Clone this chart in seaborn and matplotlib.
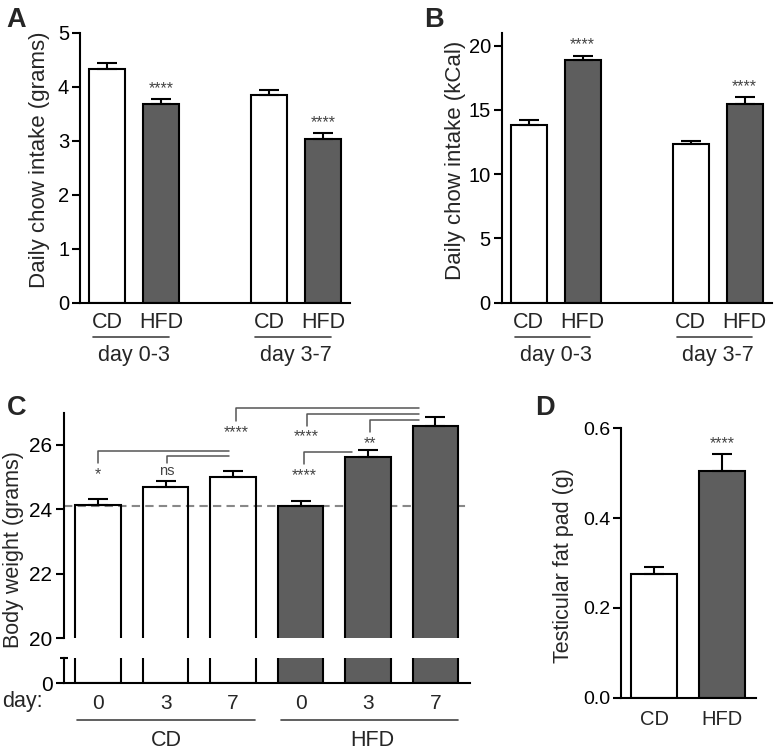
import numpy as np
import pandas as pd
import matplotlib
matplotlib.use("Agg")
import matplotlib.pyplot as plt
import matplotlib.transforms as mtransforms
import seaborn as sns

# data
diets = ["CD", "HFD", "CD", "HFD"]
periods = ["day 0-3", "day 0-3", "day 3-7", "day 3-7"]
intake_g = [4.33, 3.69, 3.86, 3.03]
intake_g_sem = [0.11, 0.08, 0.08, 0.11]
intake_kcal = [13.85, 18.86, 12.35, 15.46]
intake_kcal_sem = [0.39, 0.36, 0.23, 0.52]
intake_sig = ["", "****", "", "****"]

bw_diet = ["CD", "CD", "CD", "HFD", "HFD", "HFD"]
bw_day = ["0", "3", "7", "0", "3", "7"]
bw_mean = [24.13, 24.68, 25.00, 24.09, 25.61, 26.59]
bw_sem = [0.20, 0.20, 0.18, 0.18, 0.22, 0.29]
bw_baseline = 24.1
# comparisons in C: (from bar, to, label)
bw_tests = [(0, 2, "*"), (1, 2, "ns"), (3, 4, "****"), (4, 5, "**"), (3, 5, "****"), (2, 5, "****")]

fat_diet = ["CD", "HFD"]
fat_mean = [0.276, 0.506]
fat_sem = [0.015, 0.036]
fat_sig = ["", "****"]

# style
sns.set_style("ticks")
plt.rcParams["font.family"] = ["Liberation Sans", "DejaVu Sans"]
plt.rcParams["axes.linewidth"] = 1.5
plt.rcParams["ytick.major.width"] = 1.5
plt.rcParams["ytick.major.size"] = 5.8
plt.rcParams["ytick.color"] = "black"
plt.rcParams["xtick.major.size"] = 0
plt.rcParams["axes.edgecolor"] = "black"

pal = {"CD": "white", "HFD": "#5e5e5e"}
star_col = "#444444"
line_col = "#555555"

W, H = 782, 755
fig = plt.figure(figsize=(W / 100, H / 100), dpi=100)


def box(l, t, r, b):
    return [l / W, 1 - b / H, (r - l) / W, (b - t) / H]


def fy(py):
    return 1 - py / H


def bars(ax, df, x, order, width):
    sns.barplot(data=df, x=x, y="value", hue="diet", order=order, palette=pal,
                dodge=False, width=width, edgecolor="black", linewidth=1.5,
                errorbar=None, legend=False, ax=ax)


def errs(ax, pos, mean, sem):
    ax.errorbar(pos, mean, yerr=[np.zeros(len(sem)), sem], fmt="none",
                ecolor="black", elinewidth=1.5, capsize=7.5, capthick=1.5, zorder=3)


def stars(ax, pos, mean, sem, sig):
    for p, m, s, t in zip(pos, mean, sem, sig):
        if t:
            ax.annotate(t, (p, m + s), xytext=(0, 4.5), textcoords="offset points",
                        ha="center", va="baseline", fontsize=11.5, color=star_col)


# A and B: chow intake
for rect, vals, sem, ylim, yt, ylab, ylab_x, letter_x, letter in [
    (box(80, 33, 350, 303), intake_g, intake_g_sem, 5, [0, 1, 2, 3, 4, 5],
     "Daily chow intake (grams)", 40, 16.5, "A"),
    (box(501.7, 32.8, 771.7, 302.7), intake_kcal, intake_kcal_sem, 21, [0, 5, 10, 15, 20],
     "Daily chow intake (kCal)", 455, 434, "B"),
]:
    ax = fig.add_axes(rect)
    df = pd.DataFrame({"diet": diets, "period": periods, "value": vals})
    df["slot"] = df["diet"] + " " + df["period"]
    order = [df["slot"][0], df["slot"][1], "gap", df["slot"][2], df["slot"][3]]
    pos = [order.index(s) for s in df["slot"]]
    bars(ax, df, "slot", order, 0.667)
    errs(ax, pos, vals, sem)
    stars(ax, pos, vals, sem, intake_sig)
    ax.set_xlim(-0.5, 4.5)
    ax.set_ylim(0, ylim)
    ax.set_yticks(yt)
    ax.set_xticks(pos, diets)
    ax.tick_params(axis="y", labelsize=14.5, pad=2)
    ax.tick_params(axis="x", labelsize=15.5, pad=6.5)
    ax.set_xlabel("")
    ax.set_ylabel("")
    sns.despine(ax=ax)
    trans = mtransforms.blended_transform_factory(ax.transData, fig.transFigure)
    for g, name in enumerate(["day 0-3", "day 3-7"]):
        x0 = pos[2 * g]
        ax.plot([x0 - 0.26, x0 + 1.14], [fy(336.7)] * 2, transform=trans,
                clip_on=False, color="#444444", lw=1.2)
        ax.text(x0 + 0.5, fy(356), name, transform=trans, ha="center",
                va="center", fontsize=15.5)
    fig.text(ylab_x / W, fy(160), ylab, rotation=90, ha="center", va="center", fontsize=16)
    fig.text(letter_x / W, fy(27), letter, ha="center", va="baseline",
             fontsize=19.5, fontweight="bold")

# C: body weight with broken axis
df_c = pd.DataFrame({"diet": bw_diet, "day": bw_day, "value": bw_mean})
df_c["slot"] = df_c["diet"] + " " + df_c["day"]
order_c = list(df_c["slot"])
pos_c = list(range(len(order_c)))

ax_hi = fig.add_axes(box(64, 412.7, 470, 638))
ax_lo = fig.add_axes(box(64, 658.3, 470, 683.3))
for ax in (ax_hi, ax_lo):
    bars(ax, df_c, "slot", order_c, 0.675)
    ax.set_xlim(-0.506, 5.512)
    ax.set_xlabel("")
    ax.set_ylabel("")
    ax.tick_params(axis="y", labelsize=15, pad=2.5)

# white bars see-through so the baseline shows, grey ones hide it
for patch in ax_hi.patches:
    if patch.get_facecolor()[:3] == (1.0, 1.0, 1.0):
        patch.set_facecolor((1, 1, 1, 0))
ax_hi.axhline(bw_baseline, color="#888888", lw=1.5, ls=(0, (4, 2.5)), zorder=0.5)

errs(ax_hi, pos_c, bw_mean, bw_sem)
ax_hi.set_ylim(20, 27)
ax_hi.set_yticks([20, 22, 24, 26])
ax_hi.set_yticks([20], minor=True)
ax_hi.tick_params(axis="y", which="minor", direction="in", length=3, width=1.5)
ax_hi.set_xticks([])
sns.despine(ax=ax_hi, bottom=True)

ax_lo.set_ylim(0, 1)
ax_lo.set_yticks([0])
ax_lo.set_yticks([1], minor=True)
ax_lo.tick_params(axis="y", which="minor", direction="inout", length=6, width=1.5)
ax_lo.set_xticks(pos_c, bw_day)
ax_lo.tick_params(axis="x", labelsize=15, pad=7.5)
sns.despine(ax=ax_lo)

# significance brackets (layout)
br_start = [0.0, 1.02, 3.05, 4.03, 3.09, 2.05]
br_end = [1.94, 1.94, 3.76, 4.75, 4.75, 4.75]
br_top = [25.81, 25.66, 25.79, 26.77, 26.96, 27.14]
br_bottom = [25.43, 25.44, 25.40, 26.41, 26.60, 26.74]
for (i, j, lab), x0, x1, yt_, yb in zip(bw_tests, br_start, br_end, br_top, br_bottom):
    ax_hi.plot([x0, x0, x1], [yb, yt_, yt_], color=line_col, lw=1.1, clip_on=False)
    if lab == "ns":
        ax_hi.annotate(lab, (x0, yb), xytext=(0, -8.5), textcoords="offset points",
                       ha="center", va="baseline", fontsize=10.5, color=star_col)
    else:
        ax_hi.annotate(lab, (x0, yb), xytext=(0, -11.5), textcoords="offset points",
                       ha="center", va="baseline", fontsize=11.5, color=star_col)

trans_c = mtransforms.blended_transform_factory(ax_lo.transData, fig.transFigure)
for name, lo, hi in [("CD", -0.31, 2.325), ("HFD", 2.71, 5.33)]:
    ax_lo.plot([lo, hi], [fy(720)] * 2, transform=trans_c, clip_on=False,
               color="#444444", lw=1.2)
    ax_lo.text((lo + hi) / 2 if name == "CD" else 4.07, fy(740), name,
               transform=trans_c, ha="center", va="center", fontsize=15.5)
fig.text(22.5 / W, fy(702), "day:", ha="center", va="center", fontsize=15.5)
fig.text(13.5 / W, fy(550), "Body weight (grams)", rotation=90, ha="center",
         va="center", fontsize=15.5)
fig.text(17 / W, fy(415), "C", ha="center", va="baseline", fontsize=19.5, fontweight="bold")

# D: fat pad
ax_d = fig.add_axes(box(621, 428.3, 756, 697.7))
df_d = pd.DataFrame({"diet": fat_diet, "value": fat_mean})
bars(ax_d, df_d, "diet", fat_diet, 0.67)
errs(ax_d, [0, 1], fat_mean, fat_sem)
stars(ax_d, [0, 1], fat_mean, fat_sem, fat_sig)
ax_d.set_xlim(-0.487, 1.504)
ax_d.set_ylim(0, 0.6)
ax_d.set_yticks([0, 0.2, 0.4, 0.6], ["0.0", "0.2", "0.4", "0.6"])
ax_d.tick_params(axis="y", labelsize=14, pad=1.5)
ax_d.tick_params(axis="x", labelsize=14.5, pad=8.5)
ax_d.set_xlabel("")
ax_d.set_ylabel("")
sns.despine(ax=ax_d)
fig.text(563 / W, fy(566), "Testicular fat pad (g)", rotation=90, ha="center",
         va="center", fontsize=15.5)
fig.text(545 / W, fy(415), "D", ha="center", va="baseline", fontsize=19.5, fontweight="bold")

fig.savefig("out.png", dpi=100)
